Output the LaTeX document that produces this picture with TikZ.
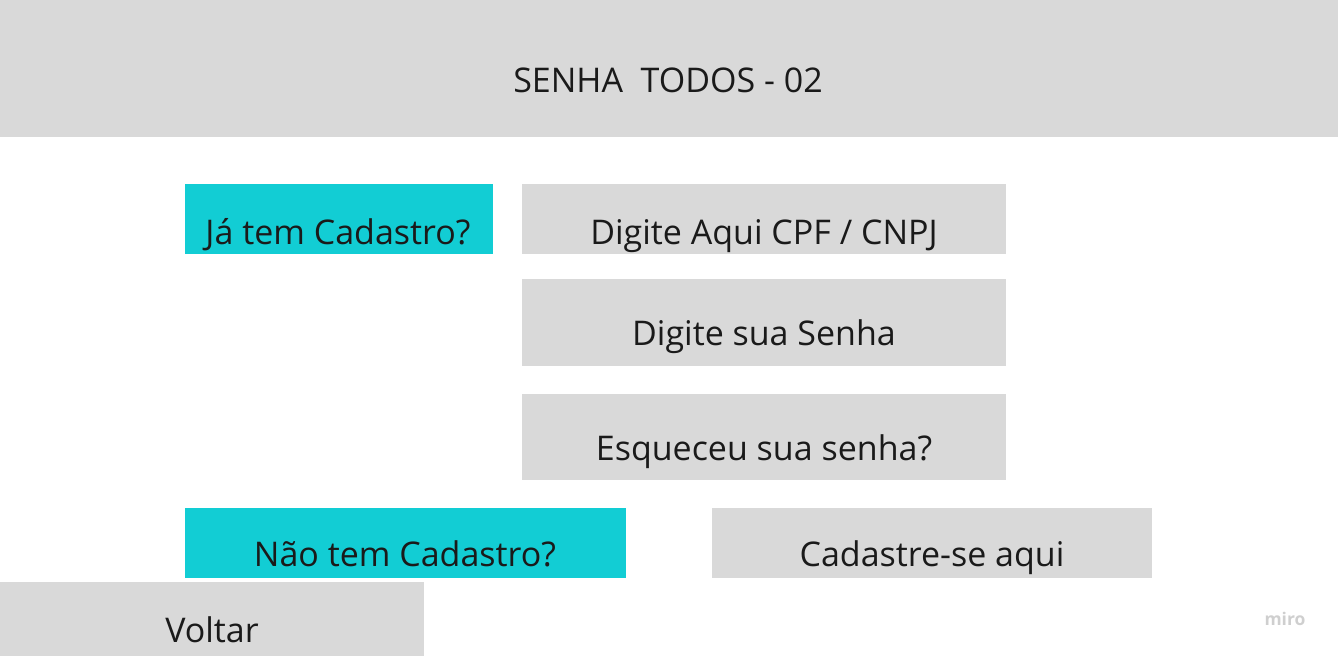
\documentclass[tikz,border=0pt]{standalone}
\usepackage{fontspec}
\setmainfont{Open Sans}
\definecolor{boxgray}{HTML}{D9D9D9}
\definecolor{boxcyan}{HTML}{12CDD4}
\definecolor{txtcol}{HTML}{1A1A1A}
\definecolor{logogray}{HTML}{CFCFCF}
\tikzset{
  gbox/.style={fill=boxgray, draw=none, inner sep=0pt},
  cbox/.style={fill=boxcyan, draw=none, inner sep=0pt},
  txt/.style={text=txtcol, inner sep=0pt, anchor=base, font=\fontsize{34}{40}\selectfont},
}
\begin{document}
\begin{tikzpicture}[x=1pt,y=-1pt]
\useasboundingbox (0,0) rectangle (1338,656);
% header
\node[gbox, minimum width=1338pt, minimum height=137pt] (hdr) at (669,68.5) {};
\node[txt] (hdrt) at (668,92) {SENHA\ \ TODOS - 02};
% boxes
\node[cbox, minimum width=308pt, minimum height=70pt] (ja) at (339,219) {};
\node[txt] (jat) at (338,244) {Já tem Cadastro?};
\node[gbox, minimum width=484pt, minimum height=70pt] (cpf) at (764,219) {};
\node[txt] (cpft) at (764,244) {Digite Aqui CPF / CNPJ};
\node[gbox, minimum width=484pt, minimum height=87pt] (sen) at (764,322.5) {};
\node[txt] (sent) at (764,345) {Digite sua Senha};
\node[gbox, minimum width=484pt, minimum height=86pt] (esq) at (764,437) {};
\node[txt] (esqt) at (764,460) {Esqueceu sua senha?};
\node[cbox, minimum width=441pt, minimum height=70pt] (nao) at (405.5,543) {};
\node[txt] (naot) at (405,566) {Não tem Cadastro?};
\node[gbox, minimum width=440pt, minimum height=70pt] (cad) at (932,543) {};
\node[txt] (cadt) at (932,566) {Cadastre-se aqui};
\node[gbox, minimum width=424pt, minimum height=74pt] (vol) at (212,619) {};
\node[txt] (volt) at (212,642) {Voltar};
% logo
\node[text=logogray, inner sep=0pt, anchor=base, font=\fontsize{17.5}{20}\selectfont\bfseries] (miro) at (1285,625) {miro};
\end{tikzpicture}
\end{document}
